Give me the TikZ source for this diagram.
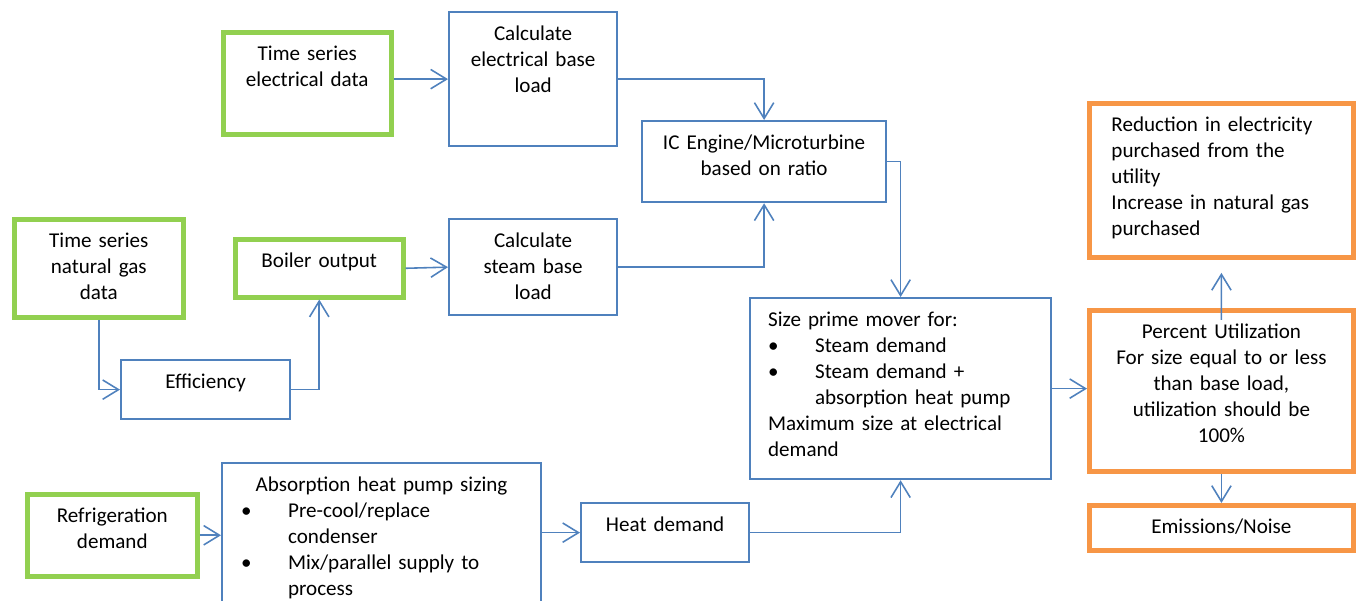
\documentclass[tikz,border=0pt]{standalone}
\usepackage{fontspec}
\setmainfont{Carlito}
\usetikzlibrary{arrows.meta}

\definecolor{inputgreen}{HTML}{92D050}
\definecolor{stepblue}{HTML}{4F81BD}
\definecolor{resultorange}{HTML}{F79646}

% bullet line with hanging indent
\newcommand{\bitem}[1]{\par\hangindent=0.94cm\hangafter=1\noindent\makebox[0.94cm][l]{\textbullet}#1\par}

\begin{document}
\begin{tikzpicture}[x=0.02cm, y=-0.02cm,
  box/.style={anchor=north west, inner sep=0pt, text height=0.56cm, align=center,
    font=\fontsize{12}{14.8}\selectfont},
  inbox/.style={box, draw=inputgreen, line width=2.6pt},
  calcbox/.style={box, draw=stepblue, line width=1.3pt},
  outbox/.style={box, draw=resultorange, line width=2.8pt},
  conn/.style={draw=stepblue, line width=0.9pt, -{Straight Barb[length=9pt,width=11pt]}}]

\clip (0,0) rectangle (1357,601);

%------------------------------------------------
% Input data
%------------------------------------------------

\node[inbox, text width=3.36cm, text depth=1.48cm] (tsel)   at (221,30)  {Time series\\electrical data};
\node[inbox, text width=3.38cm, text depth=1.40cm] (tsng)   at (12,217)  {Time series\\natural gas\\data};
\node[inbox, text width=3.36cm, text depth=0.60cm] (boiler) at (233,237) {Boiler output};
\node[inbox, text width=3.40cm, text depth=1.08cm] (refrig) at (25,492)  {Refrigeration\\demand};

%------------------------------------------------
% Calculation steps
%------------------------------------------------

\node[calcbox, text width=3.36cm, text depth=2.12cm] (calcel) at (448,11)  {Calculate\\electrical base\\load};
\node[calcbox, text width=3.36cm, text depth=1.36cm] (calcst) at (448,218) {Calculate\\steam base\\load};
\node[calcbox, text width=4.88cm, text depth=1.06cm] (icengine) at (641,120) {IC Engine/Microturbine\\based on ratio};
\node[calcbox, text width=3.38cm, text depth=0.62cm] (eff)    at (120,359) {Efficiency};
\node[calcbox, text width=5.62cm, text depth=2.32cm, inner xsep=0.38cm, align=left] (absorb) at (221,462)
  {{\centering Absorption heat pump sizing\par}%
   \bitem{Pre-cool/replace\newline condenser}%
   \bitem{Mix/parallel supply to\newline process}};
\node[calcbox, text width=3.36cm, text depth=0.62cm] (heat)   at (580,502) {Heat demand};
\node[calcbox, text width=5.30cm, text depth=3.06cm, inner xsep=0.36cm, align=left] (size) at (749,297)
  {Size prime mover for:\par
   \bitem{Steam demand}%
   \bitem{Steam demand +\newline absorption heat pump}%
   Maximum size at electrical\\demand};

%------------------------------------------------
% Results
%------------------------------------------------

\node[outbox, text width=4.40cm, text depth=2.52cm, inner xsep=0.44cm, align=left] (reduction) at (1087,101)
  {Reduction in electricity\\purchased from the\\utility\\Increase in natural gas\\purchased};
\node[outbox, text width=5.28cm, text depth=2.66cm] (percent)   at (1087,308)
  {Percent Utilization\\For size equal to or less\\than base load,\\utilization should be\\100\%};
\node[outbox, text width=5.28cm, text depth=0.34cm] (emissions) at (1087,503) {Emissions/Noise};

%------------------------------------------------
% Connectors
%------------------------------------------------

\draw[conn] (tsel.east |- calcel) -- (calcel.west);
\draw[conn] (boiler.east) -- (calcst.west);
\draw[conn] (calcel.east) -| (icengine.north);
\draw[conn] (calcst.east) -| (icengine.south);
\draw[conn] (icengine.east) -| (size.north);
\draw[conn] (tsng.south) |- (eff.west);
\draw[conn] (eff.east) -| (boiler.south);
\draw[conn] (refrig.east) -- (refrig.east -| absorb.west);
\draw[conn] (absorb.east |- heat) -- (heat.west);
\draw[conn] (heat.east) -| (size.south);
\draw[conn] (size.east) -- (size.east -| percent.west);
\draw[conn] ([yshift=-0.24cm]percent.north) -- ([yshift=-0.26cm]reduction.south);
\draw[conn] (percent.south) -- (emissions.north);

\end{tikzpicture}
\end{document}
